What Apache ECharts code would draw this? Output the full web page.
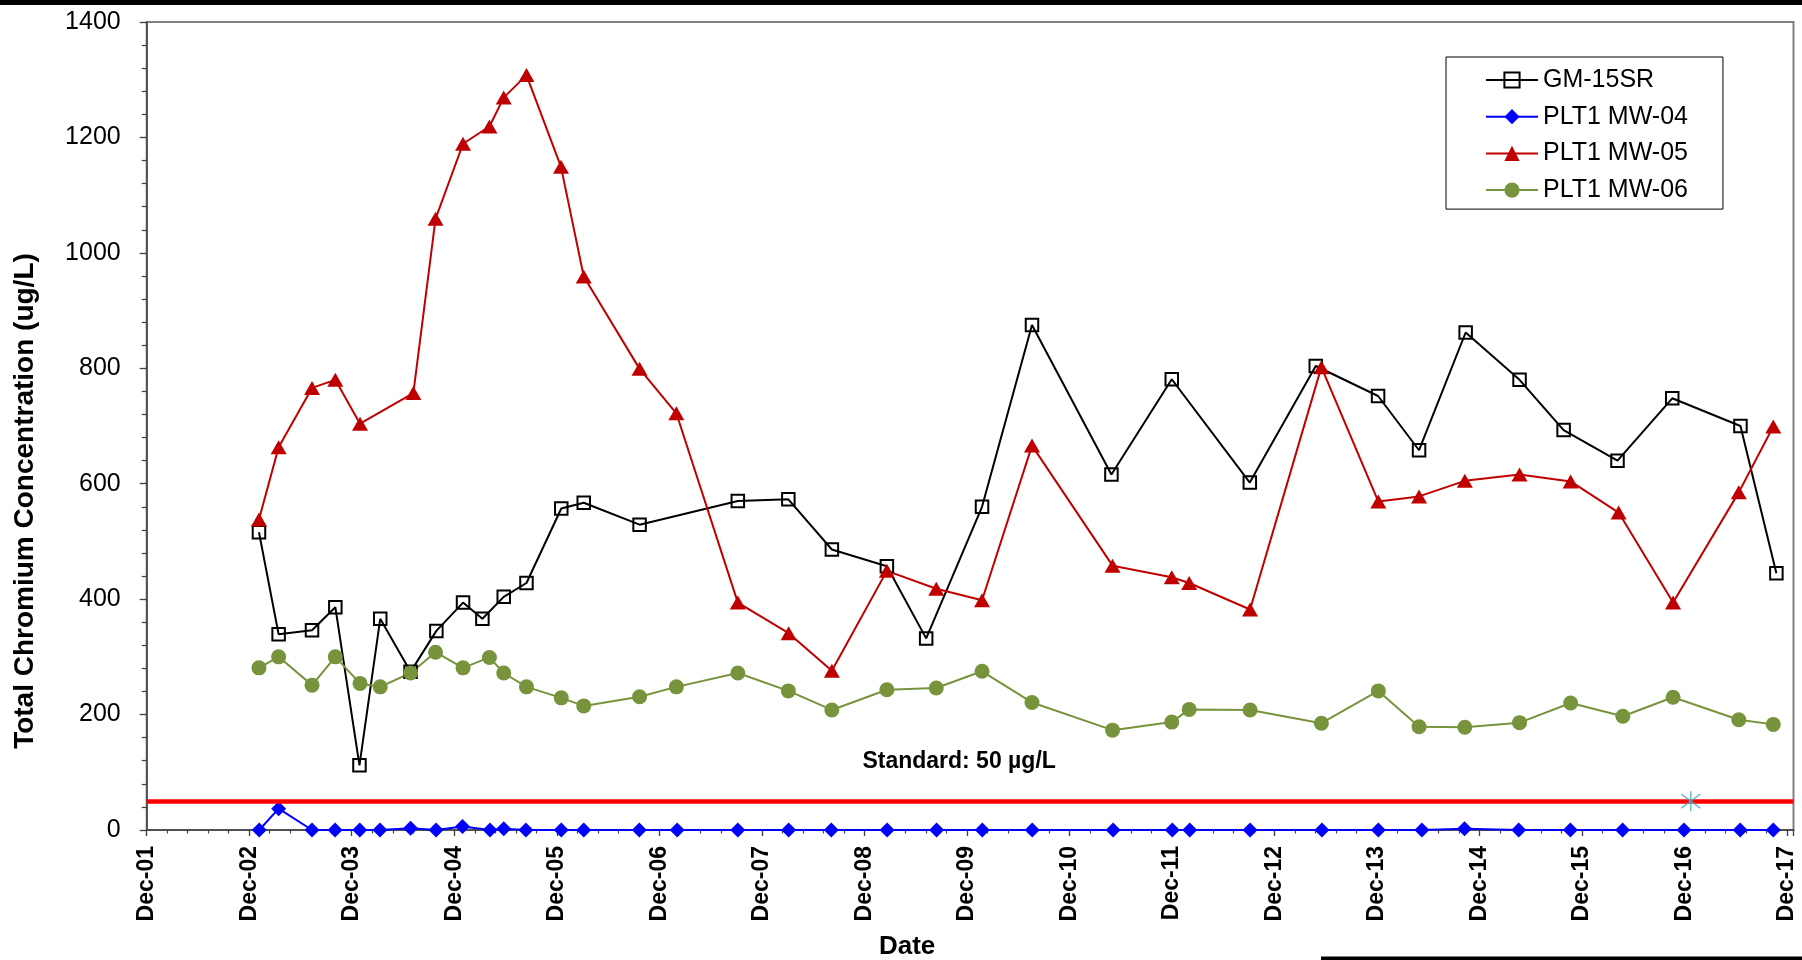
<!DOCTYPE html>
<html><head><meta charset="utf-8">
<script src="https://cdn.jsdelivr.net/npm/echarts@6/dist/echarts.min.js"></script>
<style>html,body{margin:0;padding:0;background:#fff}#c{width:1802px;height:960px}</style>
</head><body><div id="c"></div>
<script>
const xTickLabels = ['Dec-01','Dec-02','Dec-03','Dec-04','Dec-05','Dec-06','Dec-07','Dec-08','Dec-09','Dec-10','Dec-11','Dec-12','Dec-13','Dec-14','Dec-15','Dec-16','Dec-17'];
const seriesNames = ['GM-15SR','PLT1 MW-04','PLT1 MW-05','PLT1 MW-06'];

const gmDates = ["2003-01-05","2003-03-16","2003-07-13","2003-10-04","2003-12-29","2004-03-12","2004-06-28","2004-09-28","2005-01-01","2005-03-11","2005-05-26","2005-08-15","2005-12-17","2006-03-07","2006-09-22","2007-09-07","2008-03-05","2008-08-07","2009-02-19","2009-07-09","2010-01-24","2010-07-21","2011-04-30","2011-12-01","2012-09-04","2013-04-27","2013-12-05","2014-04-30","2014-10-13","2015-04-23","2015-09-27","2016-04-06","2016-10-18","2017-06-18","2017-10-24"];
const gmValues = [516,339,346,386,112,366,274,345,394,366,404,428,557,567,529,570,573,486,457,332,560,875,616,781,602,804,752,658,862,780,693,640,748,700,445];

const mw04Dates = ["2003-01-06","2003-03-16","2003-07-13","2003-10-03","2003-12-30","2004-03-11","2004-06-28","2004-09-27","2004-12-30","2005-04-07","2005-05-26","2005-08-13","2005-12-17","2006-03-07","2006-09-21","2007-02-03","2007-09-07","2008-03-06","2008-08-05","2009-02-20","2009-08-15","2010-01-25","2010-07-22","2011-05-06","2011-12-03","2012-02-03","2012-09-05","2013-05-19","2013-12-06","2014-05-10","2014-10-09","2015-04-20","2015-10-21","2016-04-24","2016-11-29","2017-06-17","2017-10-13"];
const mw04Values = [0,37,0,0,0,0,3,0,6,0,2,0,0,0,0,0,0,0,0,0,0,0,0,0,0,0,0,0,0,0,2,0,0,0,0,0,0];

const mw05Dates = ["2003-01-05","2003-03-16","2003-07-13","2003-10-04","2003-12-31","2004-07-08","2004-09-25","2005-01-01","2005-04-05","2005-05-26","2005-08-15","2005-12-16","2006-03-07","2006-09-22","2007-01-31","2007-09-07","2008-03-06","2008-08-07","2009-02-19","2009-08-14","2010-01-24","2010-07-21","2011-05-04","2011-12-01","2012-02-01","2012-09-05","2013-05-17","2013-12-06","2014-04-30","2014-10-10","2015-04-23","2015-10-22","2016-04-10","2016-10-21","2017-06-12","2017-10-13"];
const mw05Values = [538,663,766,780,704,757,1059,1189,1219,1269,1308,1149,959,799,722,394,341,276,449,418,398,666,458,438,428,382,802,569,578,605,616,604,550,394,585,699];

const mw06Dates = ["2003-01-05","2003-03-16","2003-07-13","2003-10-04","2003-12-31","2004-03-12","2004-06-28","2004-09-25","2005-01-01","2005-04-05","2005-05-26","2005-08-15","2005-12-17","2006-03-07","2006-09-22","2007-01-31","2007-09-07","2008-03-05","2008-08-07","2009-02-19","2009-08-14","2010-01-24","2010-07-21","2011-05-04","2011-12-01","2012-02-01","2012-09-05","2013-05-17","2013-12-06","2014-04-30","2014-10-10","2015-04-23","2015-10-22","2016-04-25","2016-10-21","2017-06-12","2017-10-13"];
const mw06Values = [281,300,251,300,254,248,272,308,281,299,272,248,229,215,231,248,272,241,208,243,246,275,221,173,187,209,208,185,241,179,178,186,220,197,230,191,183];

const starDates = ["2016-12-23"];
const starValues = [50];
const standardValue = 50;
const standardLabel = 'Standard: 50 µg/L';

const BASE = Date.UTC(2001, 11, 1);
function yearsSinceBase(s) {
  const p = s.split('-').map(Number);
  return (Date.UTC(p[0], p[1] - 1, p[2]) - BASE) / (365.25 * 864e5);
}
function pairs(dates, vals) { return dates.map((d, i) => [yearsSinceBase(d), vals[i]]); }

const FONT = '"Liberation Sans", Arial, sans-serif';
const axisColor = '#404040';

const chart = echarts.init(document.getElementById('c'), null, {renderer: 'canvas'});
chart.setOption({
  animation: false,
  backgroundColor: '#fff',
  textStyle: {fontFamily: FONT},
  grid: {left: 146.7, right: 8.5, top: 22, bottom: 130, containLabel: false, outerBoundsMode: 'none',
    show: true, borderColor: '#808080', borderWidth: 2},
  legend: {
    data: seriesNames, orient: 'vertical', left: 1446, top: 57,
    itemWidth: 52, itemHeight: 19, itemGap: 11.7,
    padding: [10.5, 35, 6.5, 39],
    borderColor: '#000', borderWidth: 1, backgroundColor: '#fff',
    selectedMode: false,
    textStyle: {fontSize: 25, color: '#000', lineHeight: 25, fontFamily: FONT}
  },
  xAxis: {
    type: 'value', min: 0, max: 16.063, interval: 1,
    axisLine: {onZero: false, lineStyle: {color: axisColor, width: 1.5}},
    axisTick: {show: true, length: 6, lineStyle: {color: axisColor, width: 1.3}},
    minorTick: {show: true, splitNumber: 5, length: 3.5, lineStyle: {color: axisColor, width: 1.2}},
    splitLine: {show: false},
    axisLabel: {
      rotate: 90, fontSize: 23, fontWeight: 'bold', color: '#000', margin: 16, fontFamily: FONT,
      formatter: function (v) { const r = Math.round(v); return (Math.abs(v - r) < 1e-6 && xTickLabels[r]) ? xTickLabels[r] : ''; }
    },
    name: 'Date', nameLocation: 'middle', nameGap: 104,
    nameTextStyle: {fontSize: 26, fontWeight: 'bold', color: '#000', padding: [0, 126, 0, 0], fontFamily: FONT}
  },
  yAxis: {
    type: 'value', min: 0, max: 1400, interval: 200,
    axisLine: {show: true, lineStyle: {color: axisColor, width: 1.5}},
    axisTick: {show: true, length: 7, lineStyle: {color: axisColor, width: 1.3}},
    minorTick: {show: true, splitNumber: 5, length: 5, lineStyle: {color: axisColor, width: 1.2}},
    splitLine: {show: false},
    axisLabel: {fontSize: 25, color: '#000', margin: 26, fontFamily: FONT, formatter: function (v) { return String(v); }},
    name: 'Total Chromium Concentration (ug/L)', nameLocation: 'middle', nameGap: 107, nameRotate: 90,
    nameTextStyle: {fontSize: 28, fontWeight: 'bold', color: '#000', padding: [0, 150, 0, 0], fontFamily: FONT}
  },
  graphic: [
    {type: 'rect', shape: {x: 0, y: 0, width: 1802, height: 5}, style: {fill: '#000'}, silent: true},
    {type: 'rect', shape: {x: 1321, y: 956.5, width: 481, height: 3.5}, style: {fill: '#000'}, silent: true}
  ],
  series: [
    {
      name: seriesNames[0], type: 'line', data: pairs(gmDates, gmValues),
      symbol: 'rect', symbolSize: 12.5,
      lineStyle: {color: '#000', width: 2},
      itemStyle: {color: 'rgba(255,255,255,0)', borderColor: '#000', borderWidth: 2}
    },
    {
      name: seriesNames[1], type: 'line', data: pairs(mw04Dates, mw04Values),
      symbol: 'diamond', symbolSize: 15,
      lineStyle: {color: '#0000FF', width: 2},
      itemStyle: {color: '#0000FF'},
      markLine: {
        silent: true, symbol: ['none', 'none'], animation: false,
        data: [{yAxis: standardValue}],
        lineStyle: {color: '#FF0000', width: 4.5, type: 'solid'},
        label: {show: true, position: 'insideMiddleTop', formatter: standardLabel, distance: 28,
          fontSize: 23, fontWeight: 'bold', color: '#000', padding: [0, 22, 0, 0], fontFamily: FONT},
        emphasis: {disabled: true}
      }
    },
    {
      name: seriesNames[2], type: 'line', data: pairs(mw05Dates, mw05Values),
      symbol: 'triangle', symbolSize: [16, 14],
      lineStyle: {color: '#C00000', width: 2},
      itemStyle: {color: '#C00000'}
    },
    {
      name: seriesNames[3], type: 'line', data: pairs(mw06Dates, mw06Values),
      symbol: 'circle', symbolSize: 15,
      lineStyle: {color: '#77933C', width: 2},
      itemStyle: {color: '#77933C'}
    },
    {
      name: 'marker', type: 'scatter', data: pairs(starDates, starValues),
      symbol: 'path://M10,0L10,20M0,3L20,17M0,17L20,3', symbolSize: [19, 20],
      itemStyle: {color: '#4BACC6', borderColor: '#4BACC6', borderWidth: 1.5}, z: 5
    }
  ]
});
</script></body></html>
